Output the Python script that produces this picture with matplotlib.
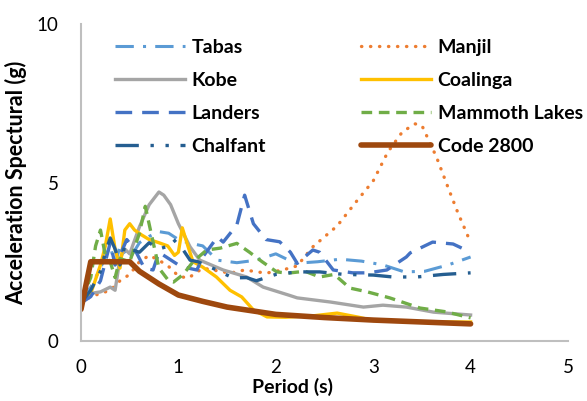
import matplotlib
matplotlib.use('Agg')
import matplotlib.pyplot as plt

plt.rcParams['font.family'] = ['Lato', 'DejaVu Sans']

# spectra (period in s, acceleration in g)
tabas_t = [0, 0.1, 0.2, 0.3, 0.35, 0.4, 0.5, 0.6, 0.7, 0.8, 0.9, 1.0, 1.1, 1.25, 1.4, 1.6, 1.8, 2.0, 2.2,
           2.43, 2.66, 2.88, 3.1, 3.32, 3.53, 3.77, 4.0]
tabas_a = [1.3, 1.7, 2.3, 3.0, 2.4, 3.0, 2.6, 3.1, 3.3, 3.45, 3.4, 3.2, 3.1, 3.0, 2.55, 2.47, 2.55, 2.75, 2.45,
           2.5, 2.58, 2.52, 2.4, 2.18, 2.2, 2.4, 2.65]

manjil_t = [0, 0.1, 0.2, 0.3, 0.4, 0.5, 0.6, 0.7, 0.8, 0.9, 1.0, 1.1, 1.25, 1.53, 1.68, 1.9, 2.07, 2.22,
            2.38, 2.63, 2.84, 3.0, 3.15, 3.3, 3.43, 3.5, 3.65, 3.77, 3.87, 3.96, 4.0]
manjil_a = [1.2, 1.4, 1.5, 1.6, 1.9, 2.1, 2.5, 2.7, 2.55, 2.35, 2.05, 1.98, 2.3, 2.14, 2.24, 2.14, 2.24, 2.37,
            2.97, 3.63, 4.45, 5.05, 5.96, 6.6, 6.85, 6.8, 5.8, 4.83, 4.04, 3.4, 3.1]

kobe_t = [0, 0.1, 0.2, 0.3, 0.35, 0.4, 0.45, 0.5, 0.6, 0.7, 0.8, 0.85, 0.92, 1.0, 1.12, 1.22, 1.46, 1.7, 1.87,
          2.13, 2.22, 2.56, 2.9, 3.1, 3.34, 3.62, 4.0]
kobe_a = [1.3, 1.5, 1.55, 1.7, 1.6, 2.6, 2.9, 2.75, 3.6, 4.3, 4.7, 4.6, 4.3, 3.7, 2.97, 2.55, 2.24, 2.02, 1.7,
          1.45, 1.36, 1.23, 1.07, 1.13, 1.07, 0.91, 0.82]

coalinga_t = [0, 0.1, 0.2, 0.25, 0.3, 0.35, 0.4, 0.45, 0.5, 0.55, 0.62, 0.7, 0.8, 0.89, 0.96, 1.0, 1.04, 1.1,
              1.15, 1.25, 1.39, 1.53, 1.65, 1.77, 1.91, 2.1, 2.4, 2.63, 2.85, 3.0, 3.5, 4.0]
coalinga_a = [1.2, 1.5, 2.4, 3.0, 3.85, 2.9, 2.3, 3.5, 3.7, 3.5, 3.35, 3.2, 3.1, 3.0, 2.7, 2.8, 3.57, 2.97,
              2.5, 2.33, 2.02, 1.6, 1.39, 0.98, 0.76, 0.75, 0.8, 0.88, 0.75, 0.65, 0.6, 0.6]

landers_t = [0, 0.1, 0.2, 0.25, 0.3, 0.35, 0.4, 0.47, 0.55, 0.65, 0.74, 0.8, 0.9, 1.0, 1.1, 1.19, 1.25, 1.4,
             1.46, 1.6, 1.68, 1.77, 1.9, 2.04, 2.15, 2.22, 2.38, 2.45, 2.59, 2.79, 2.95, 3.14, 3.34, 3.38,
             3.61, 3.82, 4.0]
landers_a = [1.2, 1.4, 1.9, 2.5, 3.1, 2.4, 2.7, 3.2, 2.9, 2.3, 2.24, 2.8, 2.6, 2.4, 2.3, 2.24, 2.65, 3.28,
             3.12, 3.66, 4.6, 3.7, 3.2, 3.13, 2.8, 2.45, 2.87, 2.8, 2.24, 2.15, 2.15, 2.24, 2.65, 2.78,
             3.12, 3.06, 2.8]

mammoth_t = [0, 0.1, 0.15, 0.2, 0.25, 0.3, 0.35, 0.4, 0.5, 0.6, 0.66, 0.72, 0.8, 0.9, 0.95, 1.05, 1.15, 1.29,
             1.43, 1.6, 1.73, 1.86, 2.01, 2.12, 2.3, 2.45, 2.6, 2.76, 2.94, 3.17, 3.48, 3.75, 4.0]
mammoth_a = [1.3, 2.0, 3.0, 3.5, 2.7, 2.5, 2.0, 2.6, 2.5, 3.4, 4.25, 3.4, 2.3, 1.9, 1.86, 2.1, 2.5, 2.87,
             2.93, 3.08, 2.8, 2.5, 2.18, 2.14, 2.2, 2.02, 2.1, 1.67, 1.55, 1.36, 1.04, 0.92, 0.73]

chalfant_t = [0, 0.1, 0.2, 0.25, 0.3, 0.35, 0.4, 0.45, 0.5, 0.6, 0.7, 0.8, 0.9, 0.95, 1.05, 1.12, 1.2, 1.35,
              1.56, 1.7, 1.8, 2.0, 2.22, 2.45, 2.7, 3.0, 3.2, 3.45, 3.72, 4.0]
chalfant_a = [1.2, 1.6, 2.2, 2.8, 3.25, 2.9, 2.4, 3.0, 2.9, 2.8, 3.1, 2.9, 3.0, 3.2, 2.87, 2.55, 2.5, 2.3,
              1.99, 2.0, 1.9, 2.1, 2.18, 2.18, 2.1, 2.08, 2.02, 2.02, 2.1, 2.15]

code_t = [0, 0.1, 0.5, 0.6, 0.7, 0.8, 1.0, 1.25, 1.5, 2.0, 2.5, 3.0, 3.5, 4.0]
code_a = [1.0, 2.5, 2.5, 2.2, 2.0, 1.8, 1.45, 1.25, 1.07, 0.84, 0.74, 0.66, 0.6, 0.54]

fig = plt.figure(figsize=(5.87, 4.01), dpi=100)
ax = fig.add_axes([81 / 587, 60 / 401, 487 / 587, 317 / 401])

h_tabas, = ax.plot(tabas_t, tabas_a, color='#5B9BD5', lw=2.2, ls=(0, (6, 3, 1, 3)), label='Tabas')
h_manjil, = ax.plot(manjil_t, manjil_a, color='#ED7D31', lw=2.4, ls=(0, (0.1, 2.6)),
                    dash_capstyle='round', label='Manjil')
h_kobe, = ax.plot(kobe_t, kobe_a, color='#A5A5A5', lw=2.4, label='Kobe')
h_coal, = ax.plot(coalinga_t, coalinga_a, color='#FFC000', lw=2.4, label='Coalinga')
h_land, = ax.plot(landers_t, landers_a, color='#4472C4', lw=2.4, ls=(0, (5, 3)), label='Landers')
h_mamm, = ax.plot(mammoth_t, mammoth_a, color='#70AD47', lw=2.4, ls=(0, (3.2, 2)), label='Mammoth Lakes')
h_chal, = ax.plot(chalfant_t, chalfant_a, color='#255E91', lw=2.4, ls=(0, (7, 3.5, 1, 3.5, 1, 3.5)),
                  label='Chalfant')
h_code, = ax.plot(code_t, code_a, color='#9E480E', lw=4, solid_capstyle='round', label='Code 2800')

ax.set_xlim(0, 5)
ax.set_ylim(0, 10)
ax.set_xticks([0, 1, 2, 3, 4, 5])
ax.set_yticks([0, 5, 10])
ax.tick_params(length=0, labelsize=13.5, colors='#000000')
ax.tick_params(axis='x', pad=13)
ax.tick_params(axis='y', pad=16)
for s in ['top', 'right']:
    ax.spines[s].set_visible(False)
for s in ['left', 'bottom']:
    ax.spines[s].set_color('#BFBFBF')
    ax.spines[s].set_linewidth(1.5)

ax.set_xlabel('Period (s)', fontsize=14, fontweight='bold', va='top')
ax.xaxis.set_label_coords((292 - 81) / 487, -0.116)
ax.set_ylabel('Acceleration Spectural (g)', fontsize=15.5, fontweight='bold')
ax.yaxis.set_label_coords(-(81 - 27) / 487, 0.5)

handles = [h_tabas, h_kobe, h_land, h_chal, h_manjil, h_coal, h_mamm, h_code]
ax.legend(handles=handles, ncol=2, frameon=False, loc='upper left',
          bbox_to_anchor=((105 - 81) / 487, (341 - 29) / 317), borderpad=0,
          prop={'weight': 'bold', 'size': 14}, handlelength=3.6, handletextpad=0.36,
          labelspacing=0.83, columnspacing=4.85)

fig.savefig('out.png', dpi=100)
